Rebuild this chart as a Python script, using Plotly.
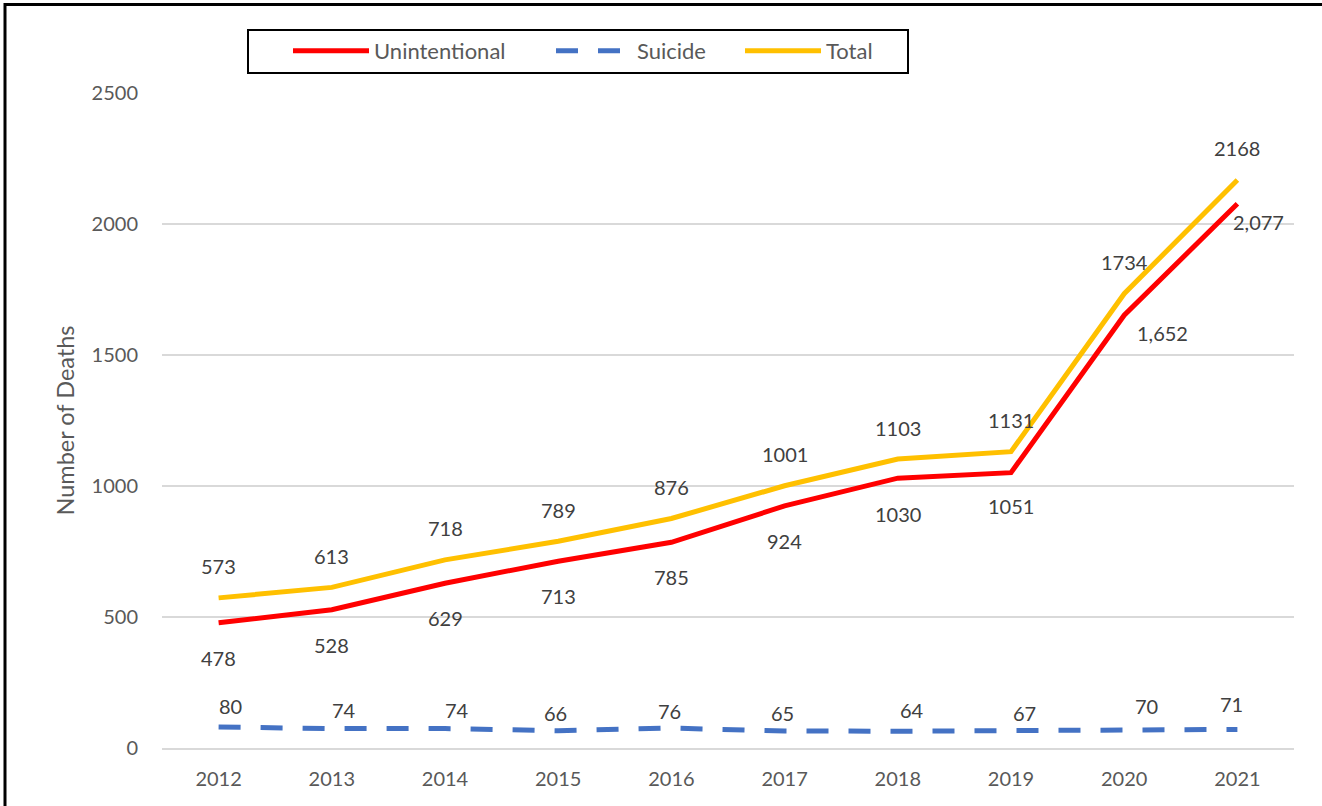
import plotly.graph_objects as go

years = ["2012", "2013", "2014", "2015", "2016", "2017", "2018", "2019", "2020", "2021"]
unintentional = [478, 528, 629, 713, 785, 924, 1030, 1051, 1652, 2077]
suicide = [80, 74, 74, 66, 76, 65, 64, 67, 70, 71]
total = [573, 613, 718, 789, 876, 1001, 1103, 1131, 1734, 2168]
unint_text = ["478", "528", "629", "713", "785", "924", "1030", "1051", "1,652", "2,077"]
y_ticks = [0, 500, 1000, 1500, 2000, 2500]

# label placement (styling only, pixel offsets)
unint_dx = [0, 0, 0, 0, 0, 0, 0, 0, 38, 21]
unint_dy = [-35, -35, -35, -35, -35, -35, -36, -33, -18, -18]
sui_dx = [12, 12, 12, -3, -2, -2, 14, 13, 22, -6]
sui_dy = [21, 19, 19, 18, 17, 18, 21, 17, 24, 25]
tot_dx = [0] * 10
tot_dy = [31.5] * 10

FONT = "Lato, Open Sans, sans-serif"
LABEL_COLOR = "#404040"
AXIS_COLOR = "#595959"

fig = go.Figure()
fig.add_trace(go.Scatter(x=years, y=unintentional, name="Unintentional", mode="lines",
                         legend="legend",
                         line=dict(color="#FF0000", width=5), hoverinfo="skip"))
fig.add_trace(go.Scatter(x=years, y=suicide, name="Suicide", mode="lines",
                         legend="legend2",
                         line=dict(color="#4472C4", width=5, dash="22px,20px"), hoverinfo="skip"))
fig.add_trace(go.Scatter(x=years, y=total, name="Total", mode="lines",
                         legend="legend3",
                         line=dict(color="#FFC000", width=5), hoverinfo="skip"))

annotations = []
for i, yr in enumerate(years):
    annotations.append(dict(x=i, y=total[i], xref="x", yref="y", text=str(total[i]), showarrow=False,
                            xshift=tot_dx[i], yshift=tot_dy[i],
                            font=dict(family=FONT, size=20, color=LABEL_COLOR)))
    annotations.append(dict(x=i, y=unintentional[i], xref="x", yref="y", text=unint_text[i], showarrow=False,
                            xshift=unint_dx[i], yshift=unint_dy[i],
                            font=dict(family=FONT, size=20, color=LABEL_COLOR)))
    annotations.append(dict(x=i, y=suicide[i], xref="x", yref="y", text=str(suicide[i]), showarrow=False,
                            xshift=sui_dx[i], yshift=sui_dy[i],
                            font=dict(family=FONT, size=20, color=LABEL_COLOR)))

L, R, T, B = 162, 28, 93, 58
W, H = 1322, 806
pw, ph = W - L - R, H - T - B

def px_x(p):
    return (p - L) / pw

def px_y(p):
    return (H - B - p) / ph

def legend_at(px):
    return dict(orientation="h", x=px_x(px), y=px_y(51), xanchor="left", yanchor="middle",
                borderwidth=0, bgcolor="rgba(0,0,0,0)",
                font=dict(family=FONT, size=22, color=AXIS_COLOR), itemwidth=76)

fig.update_layout(
    width=W, height=H,
    margin=dict(l=L, r=R, t=T, b=B, autoexpand=False),
    paper_bgcolor="white", plot_bgcolor="white",
    font=dict(family=FONT, color=AXIS_COLOR),
    showlegend=True,
    legend=legend_at(288),
    legend2=legend_at(551),
    legend3=legend_at(740),
    xaxis=dict(type="category", range=[-0.5, 9.5], showgrid=False,
               showline=True, linecolor="#D9D9D9", linewidth=1.5,
               ticks="outside", ticklen=12, tickcolor="rgba(0,0,0,0)",
               tickfont=dict(family=FONT, size=20, color=AXIS_COLOR), fixedrange=True),
    yaxis=dict(range=[0, 2500], tickvals=y_ticks, ticktext=[str(v) for v in y_ticks],
               showgrid=True, gridcolor="#D9D9D9", gridwidth=1.5, zeroline=False,
               ticks="outside", ticklen=19, tickcolor="rgba(0,0,0,0)",
               tickfont=dict(family=FONT, size=20, color=AXIS_COLOR),
               title=dict(text="Number of Deaths", standoff=10,
                          font=dict(family=FONT, size=23.5, color=AXIS_COLOR)),
               automargin=False, fixedrange=True),
    annotations=annotations,
    shapes=[
        dict(type="rect", xref="paper", yref="paper",
             x0=px_x(5), x1=px_x(1340), y0=px_y(830), y1=px_y(4.5),
             line=dict(color="black", width=3), fillcolor="rgba(0,0,0,0)", layer="above"),
        dict(type="rect", xref="paper", yref="paper",
             x0=px_x(248), x1=px_x(908), y0=px_y(73), y1=px_y(30),
             line=dict(color="black", width=2), fillcolor="rgba(0,0,0,0)", layer="above"),
    ],
)

fig.write_html("out.html", config={"displayModeBar": False},
               post_script="document.body.style.margin='0';document.body.style.padding='0';")
